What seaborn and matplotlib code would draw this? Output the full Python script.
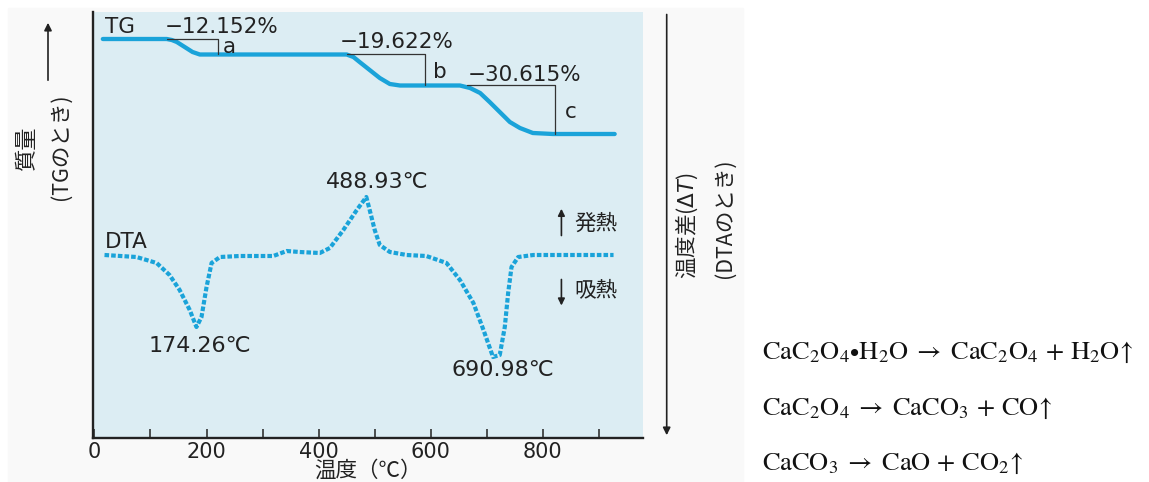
import matplotlib
matplotlib.use("Agg")
import matplotlib.pyplot as plt
from matplotlib.patches import Rectangle
import seaborn as sns

# TG curve (temperature in deg C, signal in arbitrary axis units)
tg_temp = [15, 129, 138, 147, 161, 175, 188, 206, 450, 462, 473, 491, 509, 527, 545,
           652, 670, 688, 705, 723, 741, 759, 782, 818, 928]
tg_signal = [399, 399, 398, 396, 391, 386, 383.5, 383.5, 383.5, 381, 376, 368, 360, 354, 352.5,
             352.5, 350, 345, 336, 326, 316, 310, 305, 304, 304]

# DTA curve
dta_temp = [18, 75, 111, 134, 152, 170, 182, 191, 200, 209, 224, 259, 319, 343, 366, 402,
            420, 444, 468, 485, 491, 500, 509, 527, 557, 592, 628, 652, 676, 694, 711,
            723, 732, 738, 744, 756, 783, 926]
dta_signal = [183, 181, 175, 163, 148, 128, 111, 121, 151, 175, 181, 182, 182, 187, 186, 185,
              190, 208, 228, 241, 228, 208, 193, 186, 183, 182, 175, 158, 135, 108, 81,
              83, 111, 145, 171, 181, 183, 183]

# mass-loss steps
step_labels = ["−12.152%", "−19.622%", "−30.615%"]
step_names = ["a", "b", "c"]
step_start = [129, 450, 665]
step_end = [220, 589, 821]
step_top = [399, 383.5, 352.5]
step_bottom = [383.5, 352.5, 304]

peak_labels = ["174.26℃", "488.93℃", "690.98℃"]

tick_values = list(range(0, 1000, 100))
tick_labels = [str(v) if v % 200 == 0 else "" for v in tick_values]

equations = [
    r"$\mathrm{CaC_2O_4{\bullet}H_2O}\;\rightarrow\;\mathrm{CaC_2O_4}\,+\,\mathrm{H_2O}\!\uparrow$",
    r"$\mathrm{CaC_2O_4}\;\rightarrow\;\mathrm{CaCO_3}\,+\,\mathrm{CO}\!\uparrow$",
    r"$\mathrm{CaCO_3}\;\rightarrow\;\mathrm{CaO}\,+\,\mathrm{CO_2}\!\uparrow$",
]

sns.set_style("white")
plt.rcParams["font.family"] = ["DejaVu Sans", "Noto Sans CJK JP"]
jp = ["Noto Sans CJK JP", "DejaVu Sans"]

line_color = "#1aa3d9"
ink = "#222222"

fig = plt.figure(figsize=(11.49, 4.82), dpi=100)
fig.add_artist(Rectangle((8 / 1149, 0), 735 / 1149, 1 - 8 / 482, transform=fig.transFigure,
                         color="#f9f9f9", zorder=-10))

ax = fig.add_axes([93.3 / 1149, 1 - 438 / 482, 549.4 / 1149, 426.3 / 482])
ax.set_facecolor("#dcedf3")

sns.lineplot(x=tg_temp, y=tg_signal, ax=ax, color=line_color, lw=3.1,
             sort=False, estimator=None)
sns.lineplot(x=dta_temp, y=dta_signal, ax=ax, color=line_color, lw=3.0,
             sort=False, estimator=None, linestyle=(0, (1.1, 0.5)),
             dash_capstyle="butt")

ax.set_xlim(-2, 978)
ax.set_ylim(0, 426.3)

# step brackets and labels
label_pos = [(125, 411), (438, 395.5), (666, 363)]
name_pos = [(229, 391), (604, 366), (840, 326)]
for i in range(3):
    ax.plot([step_start[i], step_end[i], step_end[i]],
            [step_top[i], step_top[i], step_bottom[i]], color="#333333", lw=0.9)
    ax.text(label_pos[i][0], label_pos[i][1], step_labels[i], fontsize=15.5,
            color=ink, va="center", ha="left")
    ax.text(name_pos[i][0], name_pos[i][1], step_names[i], fontsize=15.5,
            color=ink, va="center", ha="left")

ax.text(18, 411, "TG", fontsize=15.5, color=ink, va="center", ha="left")
ax.text(18, 195.5, "DTA", fontsize=15.5, color=ink, va="center", ha="left")

peak_pos = [(188, 92.5), (505, 255.5), (729, 67.5)]
for lab, (tx, ty) in zip(peak_labels, peak_pos):
    ax.text(tx, ty, lab, fontsize=16, color=ink, va="center", ha="center")

# exo / endo arrows
ax.annotate("", xy=(833, 232), xytext=(833, 199.7),
            arrowprops=dict(arrowstyle="-|>", color=ink, lw=1.2, mutation_scale=10))
ax.annotate("", xy=(833, 129.7), xytext=(833, 161.3),
            arrowprops=dict(arrowstyle="-|>", color=ink, lw=1.2, mutation_scale=10))
ax.text(857, 214, "発熱", fontsize=15.5, family=jp, color=ink, va="center", ha="left")
ax.text(857, 148, "吸熱", fontsize=15.5, family=jp, color=ink, va="center", ha="left")

# axes styling
for side in ["top", "right"]:
    ax.spines[side].set_visible(False)
for side in ["left", "bottom"]:
    ax.spines[side].set_linewidth(1.7)
    ax.spines[side].set_color(ink)
ax.set_yticks([])
ax.set_xticks(tick_values)
ax.set_xticklabels(tick_labels)
ax.tick_params(axis="x", direction="in", length=6.5, width=1.1, color=ink,
               labelsize=15, labelcolor=ink, pad=3, bottom=True)
ax.set_xlabel("温度（℃）", fontsize=15.5, family=jp, color=ink, labelpad=-2)

# side axis labels and arrows (figure pixels)
fig.text(26 / 1149, 1 - 147.5 / 482, "質量", rotation=90, fontsize=16, family=jp,
         color=ink, ha="center", va="center")
fig.text(61 / 1149, 1 - 147 / 482, "(TGのとき)", rotation=90, fontsize=15.5, family=jp,
         color=ink, ha="center", va="center")
fig.text(686.7 / 1149, 1 - 226 / 482, r"温度差($\Delta T$)", rotation=90, fontsize=15.5,
         family=jp, color=ink, ha="center", va="center")
fig.text(725 / 1149, 1 - 218 / 482, "(DTAのとき)", rotation=90, fontsize=15.5, family=jp,
         color=ink, ha="center", va="center")

ax.annotate("", xy=(48, 482 - 20), xytext=(48, 482 - 83), xycoords="figure pixels",
            textcoords="figure pixels",
            arrowprops=dict(arrowstyle="-|>", color=ink, lw=1.2, mutation_scale=11))
ax.annotate("", xy=(666.7, 482 - 438), xytext=(666.7, 482 - 11.7), xycoords="figure pixels",
            textcoords="figure pixels",
            arrowprops=dict(arrowstyle="-|>", color=ink, lw=1.2, mutation_scale=11))

# reaction equations
eq_y = [351.7, 408, 463]
for eq, py in zip(equations, eq_y):
    fig.text(762 / 1149, 1 - py / 482, eq, fontsize=19, math_fontfamily="stix",
             color="#111111", ha="left", va="center")

fig.savefig("out.png", dpi=100)
plt.close(fig)
